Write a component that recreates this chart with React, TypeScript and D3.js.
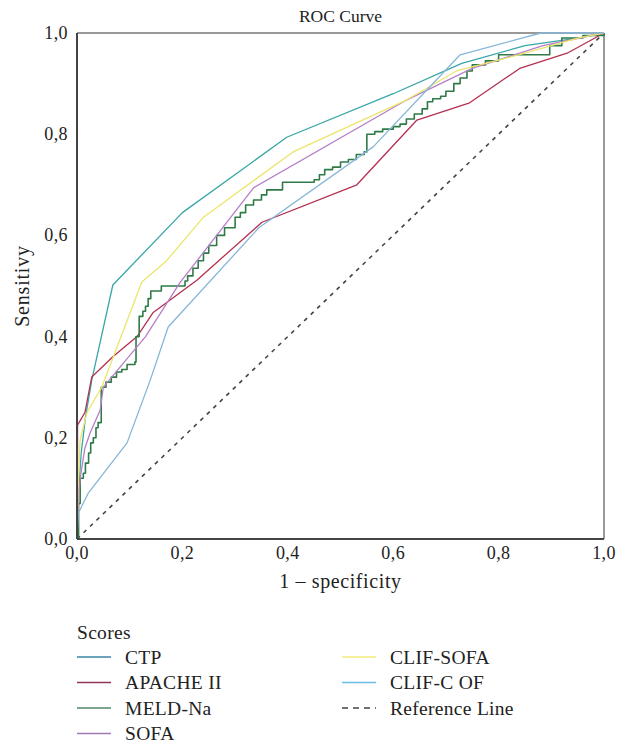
import React from "react";
import * as d3 from "d3";

type P = [number, number];

const ticks = [0, 0.2, 0.4, 0.6, 0.8, 1.0];
const tickLabels = ["0,0", "0,2", "0,4", "0,6", "0,8", "1,0"];

const ctp: P[] = [[0,0],[0.002,0.08],[0.008,0.17],[0.016,0.24],[0.028,0.314],[0.068,0.502],[0.2,0.645],[0.398,0.794],[0.6,0.88],[0.73,0.94],[0.85,0.975],[0.95,0.99],[1,1]];
const apache: P[] = [[0,0],[0.001,0.1],[0.001,0.225],[0.015,0.25],[0.028,0.32],[0.068,0.36],[0.114,0.40],[0.144,0.447],[0.228,0.512],[0.351,0.626],[0.531,0.70],[0.645,0.828],[0.745,0.862],[0.84,0.93],[0.93,0.96],[1,1]];
const meld: P[] = [[0,0],[0.003,0.07],[0.006,0.12],[0.012,0.13],[0.016,0.15],[0.022,0.17],[0.026,0.19],[0.031,0.2],[0.036,0.22],[0.04,0.23],[0.046,0.3],[0.055,0.31],[0.065,0.32],[0.075,0.33],[0.085,0.335],[0.095,0.345],[0.11,0.35],[0.112,0.40],[0.118,0.44],[0.125,0.45],[0.13,0.46],[0.135,0.475],[0.14,0.49],[0.16,0.5],[0.2,0.5],[0.205,0.51],[0.21,0.52],[0.22,0.535],[0.23,0.55],[0.24,0.565],[0.25,0.58],[0.265,0.6],[0.28,0.615],[0.3,0.636],[0.31,0.645],[0.32,0.66],[0.335,0.67],[0.35,0.68],[0.36,0.69],[0.39,0.705],[0.45,0.71],[0.46,0.72],[0.47,0.73],[0.485,0.735],[0.5,0.745],[0.515,0.75],[0.53,0.76],[0.545,0.765],[0.55,0.8],[0.565,0.805],[0.58,0.81],[0.6,0.815],[0.613,0.82],[0.625,0.83],[0.64,0.84],[0.655,0.85],[0.665,0.864],[0.675,0.87],[0.69,0.875],[0.7,0.885],[0.715,0.9],[0.727,0.911],[0.74,0.925],[0.75,0.937],[0.775,0.945],[0.8,0.957],[0.888,0.957],[0.897,0.975],[0.92,0.99],[0.96,0.995],[1,1]];
const sofa: P[] = [[0,0],[0.003,0.08],[0.006,0.12],[0.015,0.18],[0.025,0.21],[0.044,0.255],[0.05,0.30],[0.13,0.40],[0.195,0.506],[0.335,0.694],[0.626,0.868],[0.75,0.93],[0.884,0.975],[1,1]];
const clifSofa: P[] = [[0,0],[0.002,0.1],[0.006,0.196],[0.019,0.25],[0.047,0.30],[0.123,0.508],[0.17,0.55],[0.24,0.636],[0.41,0.765],[0.626,0.868],[0.72,0.925],[0.85,0.96],[0.95,0.99],[1,1]];
const clifCOF: P[] = [[0,0],[0.002,0.05],[0.021,0.09],[0.095,0.19],[0.139,0.314],[0.173,0.419],[0.345,0.615],[0.562,0.775],[0.727,0.957],[0.88,1.0],[1,1]];
const refLine: P[] = [[0,0],[1,1]];

const seriesNames = ["CTP", "APACHE II", "MELD-Na", "SOFA", "CLIF-SOFA", "CLIF-C OF"];
const seriesData = [ctp, apache, meld, sofa, clifSofa, clifCOF];
const seriesColors = ["#38a6a6", "#b3304f", "#2f7a47", "#b57fc7", "#ece56c", "#86b6d8"];
const legendColors = ["#3a84a6", "#8e3659", "#4f8a6c", "#a27ab3", "#f2eb7a", "#6cbde6"];

const W = 625, H = 746;
const L = 77, R = 604, T = 33, B = 539;
const FONT = "'Liberation Serif', 'Times New Roman', serif";

export default function App() {
  const x = d3.scaleLinear().domain([0, 1]).range([L, R]);
  const y = d3.scaleLinear().domain([0, 1]).range([B, T]);
  const line = d3.line<P>().x(d => x(d[0])).y(d => y(d[1]));
  const stepLine = d3.line<P>().x(d => x(d[0])).y(d => y(d[1])).curve(d3.curveStepAfter);

  const legendRows = [657, 682.5, 708, 733.5];
  const legendItems = seriesNames.map((n, i) => ({ name: n, color: legendColors[i], dash: false }));
  legendItems.push({ name: "Reference Line", color: "#444", dash: true });

  return (
    <svg width={W} height={H} style={{ position: "absolute", left: 0, top: 0, background: "#fff" }} fontFamily={FONT}>
      <rect x={0} y={0} width={W} height={H} fill="#fff" />
      <text x={(L + R) / 2} y={22} textAnchor="middle" fontSize={17.5} fill="#222">ROC Curve</text>
      <line x1={L} y1={T} x2={R} y2={T} stroke="#777" strokeWidth={1.5} />
      <line x1={R} y1={T} x2={R} y2={B} stroke="#777" strokeWidth={1.5} />
      <path d={line(refLine) || ""} fill="none" stroke="#444" strokeWidth={1.6} strokeDasharray="4,5" />
      {seriesData.map((d, i) => (
        <path key={i} d={(i === 2 ? stepLine(d) : line(d)) || ""} fill="none" stroke={seriesColors[i]} strokeWidth={i === 2 ? 1.6 : 1.3} strokeLinejoin="round" />
      ))}
      <line x1={L} y1={T} x2={L} y2={B} stroke="#444" strokeWidth={2} />
      <line x1={L} y1={B} x2={R} y2={B} stroke="#444" strokeWidth={2} />
      {ticks.map((t, i) => (
        <g key={"t" + i}>
          <text x={x(t)} y={B + 20} textAnchor="middle" fontSize={18} fill="#222" letterSpacing={0.4}>{tickLabels[i]}</text>
          <text x={L - 9} y={y(t) + 6} textAnchor="end" fontSize={18} fill="#222" letterSpacing={0.4}>{tickLabels[i]}</text>
        </g>
      ))}
      <text x={(L + R) / 2} y={588} textAnchor="middle" fontSize={20} fill="#222" letterSpacing={0.6}>1 – specificity</text>
      <text transform={`translate(29,${(T + B) / 2}) rotate(-90)`} textAnchor="middle" fontSize={20} fill="#222" letterSpacing={0.8}>Sensitivy</text>
      <text x={77} y={639} fontSize={19.5} fill="#222" letterSpacing={0.3}>Scores</text>
      {legendItems.map((it, i) => {
        const col = i < 4 ? 0 : 1;
        const row = i < 4 ? i : i - 4;
        const lx = col === 0 ? 77 : 342;
        const ly = legendRows[row];
        return (
          <g key={"l" + i}>
            <line x1={lx} y1={ly} x2={lx + 34} y2={ly} stroke={it.color} strokeWidth={1.5} strokeDasharray={it.dash ? "6,5" : undefined} />
            <text x={lx + 48} y={ly + 6.5} fontSize={19.5} fill="#222" letterSpacing={0.3}>{it.name}</text>
          </g>
        );
      })}
    </svg>
  );
}
